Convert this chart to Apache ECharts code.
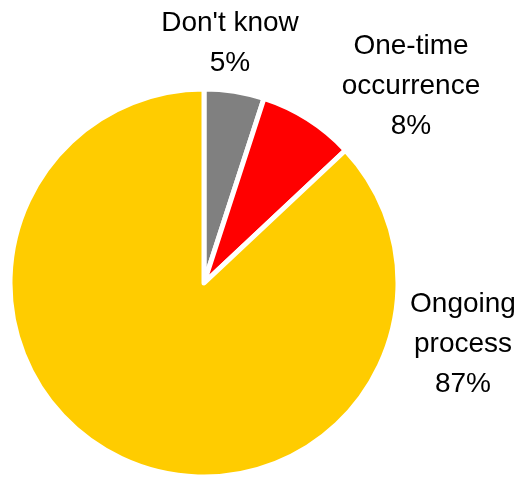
<!DOCTYPE html>
<html><head><meta charset="utf-8">
<script src="https://cdn.jsdelivr.net/npm/echarts@6/dist/echarts.min.js"></script>
<style>html,body{margin:0;padding:0;background:#fff}#c{width:518px;height:479px}</style>
</head><body><div id="c"></div>
<script>
var categories = ["Don't know", "One-time\noccurrence", "Ongoing\nprocess"];
var values = [5, 8, 87];
var colors = ["#808080", "#FF0000", "#FFCC00"];
var labelPos = [[230, 43], [411, 86], [463, 344]];

var chart = echarts.init(document.getElementById('c'), null, {renderer: 'canvas'});
chart.setOption({
  animation: false,
  series: [{
    type: 'pie',
    center: [204, 283],
    radius: [0, 194],
    startAngle: 90,
    clockwise: true,
    data: categories.map(function (n, i) {
      return {name: n, value: values[i], itemStyle: {color: colors[i]}};
    }),
    itemStyle: {borderColor: '#fff', borderWidth: 5},
    label: {
      show: true,
      position: 'outside',
      alignTo: 'none',
      overflow: 'none',
      width: 200,
      formatter: function (p) { return p.name + '\n' + p.value + '%'; },
      fontFamily: 'Liberation Sans, Arial, sans-serif',
      fontSize: 28,
      lineHeight: 40,
      color: '#000',
      align: 'center'
    },
    labelLine: {show: false},
    labelLayout: function (p) {
      var pos = labelPos[p.dataIndex];
      return {x: pos[0], y: pos[1], align: 'center', verticalAlign: 'middle'};
    }
  }]
});
</script></body></html>
